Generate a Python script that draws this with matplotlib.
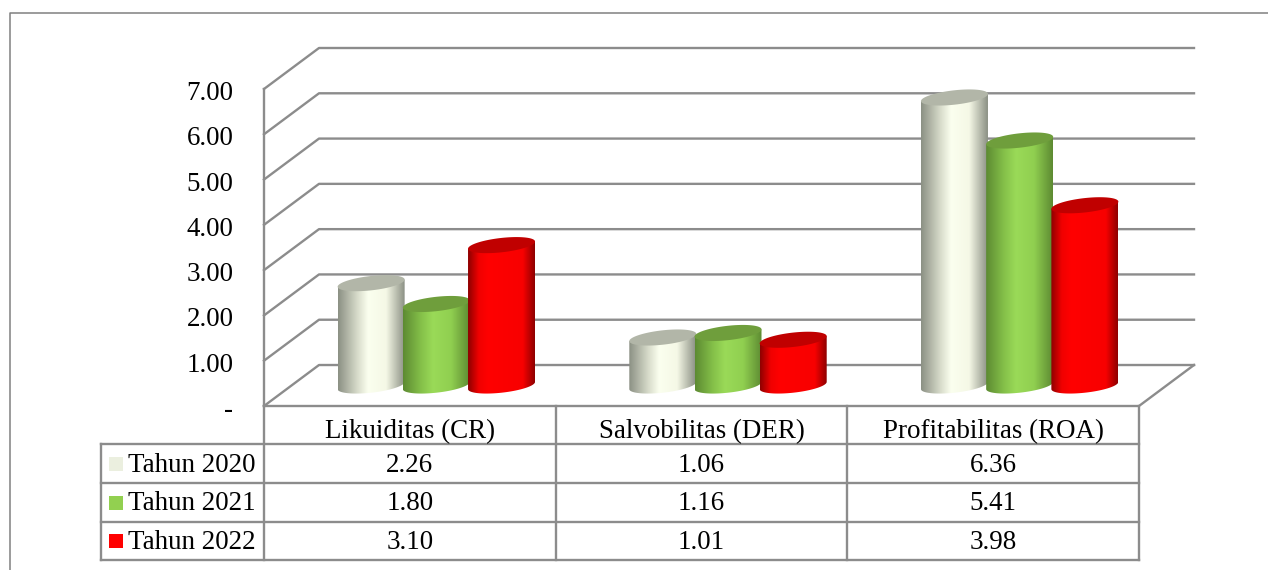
import numpy as np
import matplotlib
matplotlib.use('Agg')
import matplotlib.pyplot as plt
from matplotlib.colors import LinearSegmentedColormap
from matplotlib.patches import Polygon, Rectangle
from matplotlib.transforms import ScaledTranslation

plt.rcParams['font.family'] = ['Liberation Serif', 'DejaVu Serif']

categories = ['Likuiditas (CR)', 'Salvobilitas (DER)', 'Profitabilitas (ROA)']
series = ['Tahun 2020', 'Tahun 2021', 'Tahun 2022']
tahun_2020 = [2.26, 1.06, 6.36]
tahun_2021 = [1.80, 1.16, 5.41]
tahun_2022 = [3.10, 1.01, 3.98]
value_labels = [['2.26', '1.06', '6.36'], ['1.80', '1.16', '5.41'], ['3.10', '1.01', '3.98']]
y_ticks = [0, 1, 2, 3, 4, 5, 6, 7]
y_tick_labels = ['-', '1.00', '2.00', '3.00', '4.00', '5.00', '6.00', '7.00']

# shading of each cylinder: side stops, lid colour, legend swatch
shades = [
    ([(0, '#8b9084'), (0.28, '#d5d9c8'), (0.45, '#fbffef'), (0.72, '#f5f8e6'), (1, '#8b9084')], '#b2b6a8', '#ebefdf'),
    ([(0, '#5d8a32'), (0.28, '#86c24a'), (0.45, '#9ada58'), (0.72, '#90cf50'), (1, '#5d8a32')], '#6f9e3c', '#92d050'),
    ([(0, '#8e0000'), (0.16, '#f00000'), (0.3, '#ff0000'), (0.82, '#f80000'), (1, '#8e0000')], '#c00000', '#ff0000'),
]
grid_color = '#8c8c8c'
grid_lw = 1.7
fs = 27 * 0.72

fig = plt.figure(figsize=(12.68, 5.7), dpi=100)

# overlay in pixel units for the outer frame and the data table
px = fig.add_axes([0, 0, 1, 1])
px.set_xlim(0, 1268)
px.set_ylim(570, 0)
px.axis('off')
px.plot([9.5, 9.5, 1268], [570, 12.5, 12.5], color='#808080', lw=1.1)

col_x = [264, 555.7, 847.3, 1139]
row_y = [406, 444, 483, 522, 560]
for x in col_x:
    px.plot([x, x], [row_y[0], row_y[-1]], color=grid_color, lw=grid_lw)
px.plot([101, 101], [row_y[1], row_y[-1]], color=grid_color, lw=grid_lw)
for y in row_y[1:]:
    px.plot([101, 1139], [y, y], color=grid_color, lw=grid_lw)

for r, name in enumerate(series):
    cy = (row_y[r + 1] + row_y[r + 2]) / 2
    px.add_patch(Rectangle((109, cy - 7), 14, 14, color=shades[r][2], lw=0))
    px.text(128, cy + 1.5, name, fontsize=fs, va='center', ha='left')
    for c in range(3):
        px.text((col_x[c] + col_x[c + 1]) / 2, cy + 1.5, value_labels[r][c], fontsize=fs, va='center', ha='center')

# main axes: x in categories, y in values, extended to hold the depth offset
depth_x = 55 / 291.67
depth_y = 41 / 45.3
ax = fig.add_axes([264 / 1268, (570 - 406) / 570, 930 / 1268, 358 / 570])
ax.patch.set_alpha(0)
for s in ax.spines.values():
    s.set_visible(False)

n_cat = len(categories)
for v in y_ticks:
    ax.plot([0, depth_x, n_cat + depth_x], [v, v + depth_y, v + depth_y], color=grid_color, lw=grid_lw, clip_on=False, zorder=1)
ax.plot([0, 0], [0, 7], color=grid_color, lw=grid_lw, clip_on=False, zorder=1)
ax.plot([0, n_cat, n_cat + depth_x], [0, 0, depth_y], color=grid_color, lw=grid_lw, clip_on=False, zorder=1)

# cylinders
bar_w = 67 / 291.67
step = 65.2 / 291.67
rad_y = 7.2 / 45.3
skew = 3.6 / 45.3
t = np.linspace(0, 2 * np.pi, 121)
low = np.linspace(np.pi, 2 * np.pi, 61)
gx = np.linspace(0, 1, 256)
z = 2
all_values = [tahun_2020, tahun_2021, tahun_2022]
for c in range(n_cat):
    for r in range(3):
        val = all_values[r][c]
        stops, lid, _ = shades[r]
        cx = c + 0.5 + depth_x / 2 + (r - 1) * step - 1 / 291.67
        base = depth_y / 2
        top = base + val
        a = bar_w / 2
        low_x = cx + a * np.cos(low)
        low_y = base + rad_y * np.sin(low) + skew * np.cos(low)
        body = np.vstack([np.c_[low_x, low_y], [[cx + a, top + skew]], [[cx - a, top - skew]]])
        cmap = LinearSegmentedColormap.from_list('c', stops)
        im = ax.imshow(gx[None, :], extent=(cx - a, cx + a, base - 0.4, top + 0.4), aspect='auto', cmap=cmap,
                       origin='lower', zorder=z, interpolation='bilinear')
        clip = Polygon(body, closed=True, transform=ax.transData, facecolor='none', edgecolor='none')
        ax.add_patch(clip)
        im.set_clip_path(clip)
        lid_x = cx + a * np.cos(t)
        lid_y = top + rad_y * np.sin(t) + skew * np.cos(t)
        ax.add_patch(Polygon(np.c_[lid_x, lid_y], closed=True, facecolor=lid, edgecolor='none', zorder=z + 0.5))
        z += 1

ax.set_xlim(0, n_cat + depth_x)
ax.set_ylim(0, 7 + depth_y)
ax.set_yticks(y_ticks)
ax.set_yticklabels(y_tick_labels, fontsize=fs)
ax.set_xticks([i + 0.5 for i in range(n_cat)])
ax.set_xticklabels(categories, fontsize=fs)
ax.tick_params(axis='y', length=0, pad=22)
ax.tick_params(axis='x', length=0, pad=9.5)
for lab in ax.get_yticklabels():
    lab.set_transform(lab.get_transform() + ScaledTranslation(0, -1.5 / 100, fig.dpi_scale_trans))

fig.savefig('out.png', dpi=100)
